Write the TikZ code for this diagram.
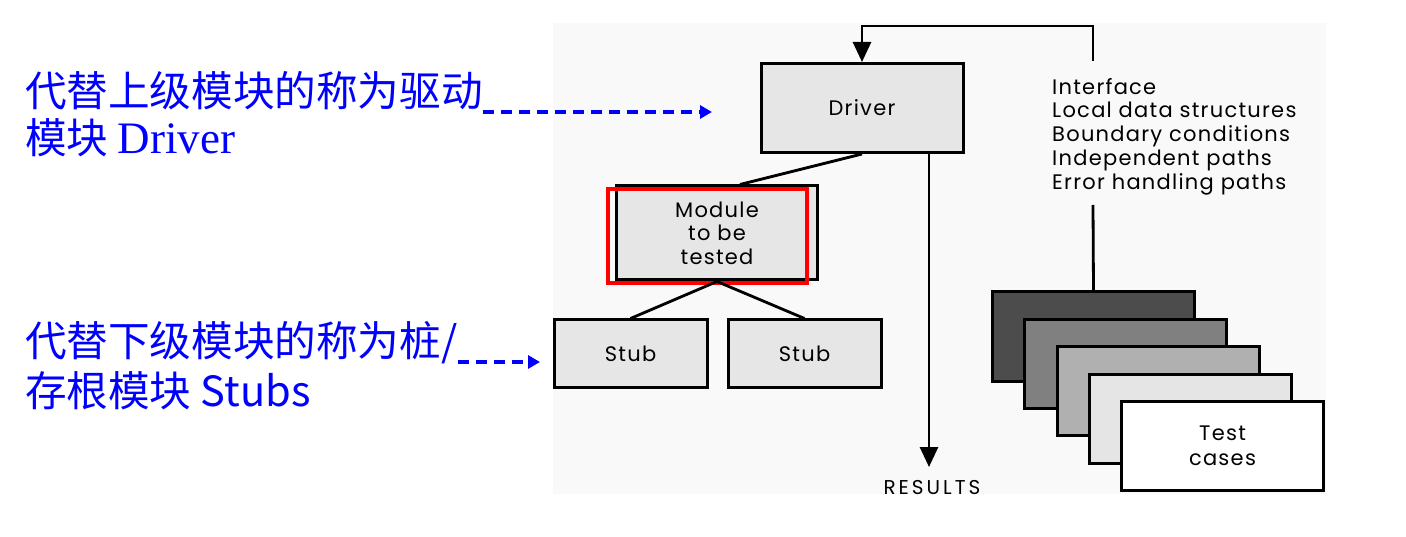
\documentclass[tikz,border=0pt]{standalone}
\usepackage{fontspec}
\usepackage{tikz}
\usetikzlibrary{arrows.meta}
\newfontfamily\cjkfont{Noto Sans CJK SC}
\newfontfamily\figfont[LetterSpace=6]{Poppins}
\newfontfamily\widefont[LetterSpace=15]{Poppins}
\newfontfamily\latinserif{Liberation Serif}
\definecolor{boxgray}{RGB}{230,230,230}
\definecolor{panelgray}{RGB}{249,249,249}

\begin{document}
\begin{tikzpicture}[x=1pt,y=-1pt,
 unitbox/.style={draw,line width=3pt,fill=boxgray,align=center,inner sep=0pt,font=\figfont\fontsize{21}{23.5}\selectfont},
 card/.style={draw,line width=3pt,minimum width=202pt,minimum height=89pt,inner sep=0pt,align=center,font=\figfont\fontsize{21}{24.5}\selectfont},
 link/.style={line width=2.8pt},
 note/.style={anchor=base west,inner sep=0pt,text=blue,font=\cjkfont\fontsize{41.6}{50}\selectfont},
 pointer/.style={blue,line width=3.2pt,dash pattern=on 11pt off 7pt,-{Triangle[length=12pt,width=13pt]}}]
\useasboundingbox (0,0) rectangle (1406,537);
\fill[white] (0,0) rectangle (1406,537);
\fill[panelgray] (553,23) rectangle (1326,494);
\node[unitbox,minimum width=202pt,minimum height=89pt] (drv) at (862,108) {Driver};
\node[unitbox,minimum width=201pt,minimum height=94pt] (mut) at (717,233) {Module\\to be\\tested};
\node[draw=red,line width=3.6pt,minimum width=199pt,minimum height=94pt] (focus) at (707.5,236) {};
\node[unitbox,minimum width=153pt,minimum height=67pt] (stubl) at (630.5,353.5) {Stub};
\node[unitbox,minimum width=153pt,minimum height=67pt] (stubr) at (804.5,353.5) {Stub};
\foreach \i/\tone in {0/70,1/50,2/31,3/10}
  \node[card,fill=black!\tone] (tc\i) at (1093.5+32.25*\i,336.5+27.4*\i) {};
\node[card,fill=white] (tc4) at (1222.5,446) {Test\\cases};
\node[anchor=west,align=left,inner sep=0pt,font=\figfont\fontsize{21}{23.7}\selectfont] (checks) at (1052,136.5)
  {Interface\\Local data structures\\Boundary conditions\\Independent paths\\Error handling paths};
\node[font=\widefont\fontsize{20}{22}\selectfont] (res) at (932,488) {RESULTS};
\coordinate (loopin) at (1093,61);
\coordinate (loopout) at (1093,205);
\coordinate (resin) at (929,467);
\draw[link,-{Triangle[length=20pt,width=18pt]}] (loopin) -- ++(0,-35) -| (drv.north);
\draw[link] (tc0.north) -- (loopout);
\draw[link] (drv.south) -- ([xshift=23pt]mut.north);
\draw[link] (mut.south) -- (stubl.north);
\draw[link] (mut.south) -- (stubr.north);
\draw[link,-{Triangle[length=20pt,width=18pt]}] (drv.south -| resin) -- (resin);
\node[note] (drvnote) at (25,107) {代替上级模块的称为驱动};
\node[note] (drvnote2) at (25,154) {模块 {\latinserif\fontsize{45}{50}\selectfont Driver}};
\node[note] (stubnote) at (25,356) {代替下级模块的称为桩/};
\node[note] (stubnote2) at (25,406) {存根模块 Stubs};
\coordinate (drvmark) at (712,112);
\coordinate (stubmark) at (540,362);
\draw[pointer] (drvnote.south east |- drvmark) -- (drvmark);
\draw[pointer] (stubnote.south east |- stubmark) -- (stubmark);
\end{tikzpicture}
\end{document}
